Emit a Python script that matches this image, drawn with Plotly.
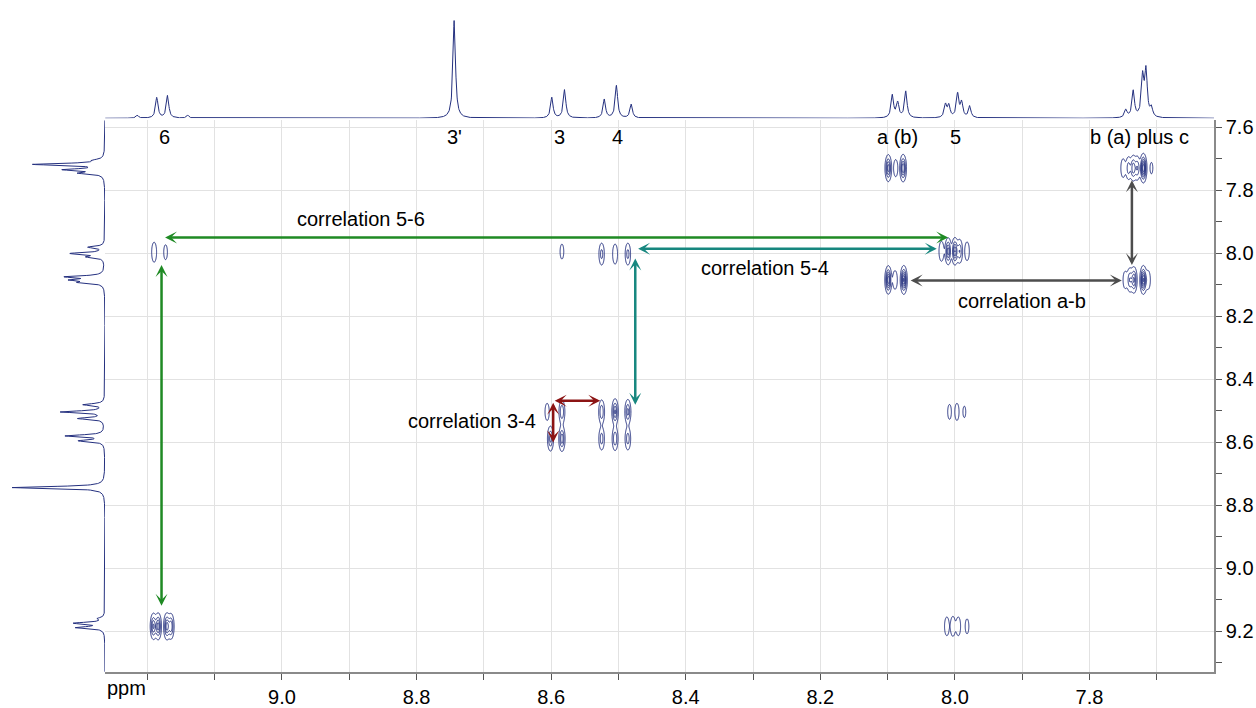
import numpy as np
import plotly.graph_objects as go

NAVY = "#24307f"
FONT = "Liberation Sans, Arial, Helvetica, sans-serif"

# ---------------- 1D projection on top (F2) : peak ppm / height (px units) ----
top_ppm = [9.215, 9.186, 9.170, 9.140, 8.744, 8.599, 8.580, 8.521, 8.503, 8.481,
           8.093, 8.085, 8.073, 8.014, 8.009, 7.996, 7.990, 7.978,
           7.746, 7.735, 7.721, 7.716, 7.708]
top_height = [3, 21, 23, 3, 100, 21, 29, 19, 33, 14,
              23, 15, 27, 13, 12, 24, 15, 12,
              8, 27, 40, 46, 9]

# ---------------- 1D projection on left (F1) ----------------------------------
left_ppm = [7.705, 7.718, 7.735, 7.746, 7.981, 8.001, 8.012, 8.075, 8.085, 8.093,
            8.481, 8.504, 8.525, 8.580, 8.596, 8.744, 9.160, 9.175, 9.189]
left_height = [8, 70, 38, 23, 16, 33, 16, 37, 29, 22,
               21, 44, 26, 39, 25, 94, 6, 30, 28]

# ---------------- 2D cross peaks (x = F2 ppm, y = F1 ppm, amplitude) --------
cross_x = [9.191, 9.184, 9.171, 9.165,            # 6 / 6
           9.190, 9.173,                          # 6 / 5
           8.584,                                 # 3 / 5
           8.525, 8.505, 8.486,                   # 4 / 5
           8.020, 8.010, 8.000, 7.993, 7.982,     # 5 / 5
           8.008, 7.997, 7.986,                   # 5 / 4
           8.012, 8.003, 7.995, 7.982,            # 5 / 6
           8.606, 8.584,                          # 3 / 4
           8.601, 8.584,                          # 3 / 3
           8.525, 8.505, 8.486,                   # 4 / 4
           8.525, 8.505, 8.486,                   # 4 / 3
           8.099, 8.089, 8.076,                   # a / a
           8.099, 8.088, 8.077,                   # a / b
           7.750, 7.742, 7.735, 7.729, 7.720, 7.708,  # b / b
           7.747, 7.740, 7.734, 7.720, 7.713]     # b / a
cross_y = [9.185, 9.185, 9.185, 9.185,
           7.997, 7.997,
           7.995,
           8.003, 8.003, 8.003,
           7.994, 7.994, 7.994, 7.994, 7.994,
           8.504, 8.504, 8.504,
           9.185, 9.185, 9.185, 9.185,
           8.504, 8.504,
           8.589, 8.589,
           8.504, 8.504, 8.504,
           8.589, 8.589, 8.589,
           8.085, 8.085, 8.085,
           7.730, 7.730, 7.730,
           7.730, 7.730, 7.730, 7.730, 7.730, 7.730,
           8.085, 8.085, 8.085, 8.085, 8.085]
cross_amp = [0.9, 1.0, 1.0, 0.8,
             0.35, 0.2,
             0.2,
             0.45, 0.35, 0.45,
             0.35, 1.0, 1.1, 0.6, 0.3,
             0.2, 0.25, 0.15,
             0.3, 0.35, 0.3, 0.2,
             0.25, 0.6,
             0.7, 0.8,
             0.6, 0.9, 0.7,
             0.5, 0.6, 0.5,
             1.3, 0.3, 1.4,
             1.0, 0.25, 1.1,
             0.3, 0.5, 0.8, 0.6, 1.6, 0.15,
             0.25, 0.6, 0.9, 1.4, 0.3]

# ---------------- annotation arrows (ppm) -------------------------------------
arrow_x0 = [9.176, 9.179, 8.473, 8.475, 8.597, 8.597, 8.068, 7.737]
arrow_y0 = [7.950, 8.033, 7.986, 8.012, 8.469, 8.470, 8.087, 7.764]
arrow_x1 = [8.010, 9.179, 8.027, 8.475, 8.527, 8.597, 7.752, 7.737]
arrow_y1 = [7.950, 9.120, 7.986, 8.481, 8.469, 8.601, 8.087, 8.038]
arrow_color = ["#1f8a24", "#1f8a24", "#17877f", "#17877f",
               "#8c1414", "#8c1414", "#4d4d4d", "#4d4d4d"]

# ---------------- text labels -------------------------------------------------
peak_labels = ["6", "3'", "3", "4", "a (b)", "5", "b (a) plus c"]
peak_label_x = [9.174, 8.744, 8.588, 8.502, 8.086, 7.999, 7.726]
peak_label_y = 7.632
corr_labels = ["correlation 5-6", "correlation 5-4", "correlation a-b", "correlation 3-4"]
corr_x = [8.883, 8.282, 7.901, 8.718]
corr_y = [7.891, 8.047, 8.153, 8.532]

x_major = [9.0, 8.8, 8.6, 8.4, 8.2, 8.0, 7.8]
x_minor = [9.2, 9.1, 8.9, 8.7, 8.5, 8.3, 8.1, 7.9, 7.7]
y_major = [7.6, 7.8, 8.0, 8.2, 8.4, 8.6, 8.8, 9.0, 9.2]
y_minor = [7.7, 7.9, 8.1, 8.3, 8.5, 8.7, 8.9, 9.1, 9.3]

X_RANGE = [9.263, 7.615]
Y_RANGE = [9.330, 7.578]

# ---------------- build curves -----------------------------------------------
def lorentz_sum(grid, centers, heights, hw):
    out = np.zeros_like(grid)
    for c, h in zip(centers, heights):
        out += h / (1.0 + ((grid - c) / hw) ** 2)
    return out

xs = np.arange(X_RANGE[1], X_RANGE[0], 0.0004)
top_curve = lorentz_sum(xs, top_ppm, top_height, 0.0022)
ys = np.arange(Y_RANGE[1], Y_RANGE[0], 0.0008)
left_curve = lorentz_sum(ys, left_ppm, left_height, 0.0036)

# 2D grid (refined only around peaks)
sx, sy = 0.0023, 0.020
bx = np.arange(X_RANGE[1], X_RANGE[0], 0.0005)
kx = np.zeros(bx.shape, bool)
for px in cross_x:
    kx |= np.abs(bx - px) < 0.013
kx[::60] = True
kx[-1] = True
xg = bx[kx]
by = np.arange(Y_RANGE[1], Y_RANGE[0], 0.002)
ky = np.zeros(by.shape, bool)
for py in cross_y:
    ky |= np.abs(by - py) < 0.08
ky[::40] = True
ky[-1] = True
yg = by[ky]
XX, YY = np.meshgrid(xg, yg)
Z = np.zeros_like(XX)
for px, py, a in zip(cross_x, cross_y, cross_amp):
    Z += a * np.exp(-((XX - px) ** 2 / (2 * sx ** 2) + (YY - py) ** 2 / (2 * sy ** 2)))
Z = np.round(Z, 3)

fig = go.Figure()
fig.add_trace(go.Contour(
    x=np.round(xg, 5), y=np.round(yg, 5), z=Z, xaxis="x", yaxis="y",
    contours=dict(coloring="lines", start=0.1, end=2.0, size=0.25),
    line=dict(width=1), colorscale=[[0, NAVY], [1, NAVY]],
    showscale=False, hoverinfo="skip"))
fig.add_trace(go.Scatter(x=xs, y=top_curve, xaxis="x2", yaxis="y2", mode="lines",
                         line=dict(color=NAVY, width=1), hoverinfo="skip"))
fig.add_trace(go.Scatter(x=left_curve, y=ys, xaxis="x3", yaxis="y3", mode="lines",
                         line=dict(color=NAVY, width=1), hoverinfo="skip"))

W, H = 1214, 678
xd0 = 105 / W
ytop = (H - 118) / H
annotations = []
for x0, y0, x1, y1, c in zip(arrow_x0, arrow_y0, arrow_x1, arrow_y1, arrow_color):
    annotations.append(dict(x=x1, y=y1, ax=x0, ay=y0, xref="x", yref="y", axref="x", ayref="y",
                            text="", showarrow=True, arrowhead=3, startarrowhead=3,
                            arrowside="end+start", arrowsize=0.8, startarrowsize=0.8,
                            arrowwidth=2.5, arrowcolor=c, standoff=0, startstandoff=0))
for t, x in zip(peak_labels, peak_label_x):
    annotations.append(dict(x=x, y=peak_label_y, xref="x", yref="y", text=t, showarrow=False,
                            font=dict(size=20, family=FONT, color="black")))
for t, x, y in zip(corr_labels, corr_x, corr_y):
    annotations.append(dict(x=x, y=y, xref="x", yref="y", text=t, showarrow=False,
                            font=dict(size=20, family=FONT, color="black")))
annotations.append(dict(x=126 / W, y=(H - 694) / H, xref="paper", yref="paper", text="ppm",
                        xanchor="center", yanchor="middle",
                        showarrow=False, font=dict(size=20, family=FONT, color="black")))

GRID = "#e2e2e2"
AX = "#8a8a8a"
fig.update_layout(
    width=1256, height=708, margin=dict(l=0, r=42, t=0, b=30),
    paper_bgcolor="white", plot_bgcolor="white", showlegend=False,
    font=dict(family=FONT, size=20, color="black"),
    xaxis=dict(domain=[xd0, 1], range=X_RANGE, anchor="y", tickmode="array",
               tickvals=x_major, ticktext=[f"{v:.1f}" for v in x_major],
               ticks="outside", ticklen=6, tickwidth=1, tickcolor="#555",
               showline=True, linecolor=AX, linewidth=1.5, showgrid=True,
               gridcolor=GRID, gridwidth=1, zeroline=False,
               tickfont=dict(size=20, family=FONT, color="black"),
               minor=dict(tickmode="array", tickvals=x_minor, ticks="outside", ticklen=6,
                          tickcolor="#555", showgrid=True, gridcolor=GRID, gridwidth=1)),
    yaxis=dict(domain=[0, ytop], range=Y_RANGE, anchor="x", side="right", tickmode="array",
               tickvals=y_major, ticktext=[f"{v:.1f}" for v in y_major],
               ticks="outside", ticklen=6, tickwidth=1, tickcolor="#555",
               showline=True, linecolor=AX, linewidth=1.5, showgrid=True,
               gridcolor=GRID, gridwidth=1, zeroline=False,
               tickfont=dict(size=20, family=FONT, color="black"),
               minor=dict(tickmode="array", tickvals=y_minor, ticks="outside", ticklen=6,
                          tickcolor="#555", showgrid=False)),
    xaxis2=dict(domain=[xd0, 1], matches="x", anchor="y2", visible=False),
    yaxis2=dict(domain=[(H - 116) / H, 1], range=[0, 116], anchor="x2", visible=False),
    xaxis3=dict(domain=[0, xd0], range=[105, 0], anchor="y3", visible=False),
    yaxis3=dict(domain=[0, ytop], matches="y", anchor="x3", visible=False),
    annotations=annotations,
)
fig.write_html("out.html")
